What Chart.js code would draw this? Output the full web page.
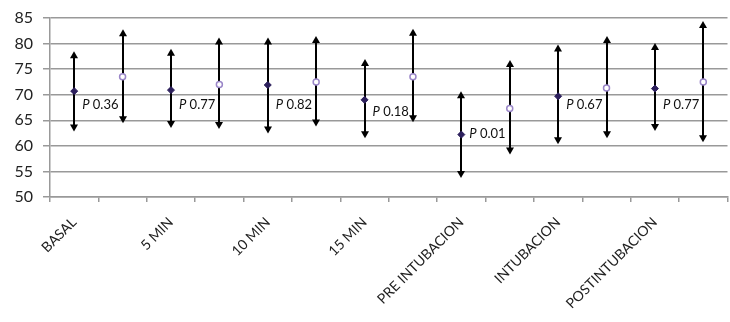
<!DOCTYPE html>
<html lang="es">
<head>
    <meta charset="UTF-8">
    <title>Frecuencia cardiaca por momento</title>
    <script src="https://cdn.jsdelivr.net/npm/chart.js"></script>
    <style>
        html, body { margin: 0; padding: 0; overflow: hidden; background: #fff; }
        #wrap { width: 733px; height: 322px; }
    </style>
</head>
<body>
    <div id="wrap"><canvas id="chart"></canvas></div>

    <script>
        // categorias (Excel solo muestra una de cada dos)
        const categories = ['BASAL', '', '5 MIN', '', '10 MIN', '', '15 MIN', '', 'PRE INTUBACION', '', 'INTUBACION', '', 'POSTINTUBACION', ''];

        // grupo 1 (rombo oscuro)
        const meanA = [70.7, 70.9, 71.9, 69.0, 62.2, 69.7, 71.2];
        const lowA  = [63.0, 63.7, 62.6, 61.7, 53.9, 60.5, 63.1];
        const highA = [78.3, 78.8, 81.0, 76.8, 70.5, 79.6, 79.9];

        // grupo 2 (circulo claro)
        const meanB = [73.5, 72.0, 72.5, 73.5, 67.3, 71.3, 72.5];
        const lowB  = [64.6, 63.5, 64.0, 64.8, 58.5, 61.7, 60.9];
        const highB = [82.6, 81.0, 81.3, 82.7, 76.6, 81.3, 84.2];

        const pValues = ['0.36', '0.77', '0.82', '0.18', '0.01', '0.67', '0.77'];
        const pLabelLevel = [68, 68, 68, 66.6, 62.3, 68, 68];

        const yTicks = [50, 55, 60, 65, 70, 75, 80, 85];

        const spread = (vals, offset) => categories.map((c, i) => (i % 2 === offset ? vals[Math.floor(i / 2)] : null));

        const errorBars = {
            id: 'errorBars',
            beforeDatasetsDraw(chart) {
                const { ctx, scales: { x, y } } = chart;
                ctx.save();
                ctx.strokeStyle = '#000';
                ctx.fillStyle = '#000';
                ctx.lineWidth = 2;
                const bar = (idx, lo, hi) => {
                    const px = Math.round(x.getPixelForValue(idx));
                    const yl = y.getPixelForValue(lo);
                    const yh = y.getPixelForValue(hi);
                    ctx.beginPath();
                    ctx.moveTo(px, yh + 4);
                    ctx.lineTo(px, yl - 4);
                    ctx.stroke();
                    ctx.beginPath();
                    ctx.moveTo(px, yh - 1);
                    ctx.lineTo(px - 4, yh + 6);
                    ctx.lineTo(px + 4, yh + 6);
                    ctx.closePath();
                    ctx.fill();
                    ctx.beginPath();
                    ctx.moveTo(px, yl + 1);
                    ctx.lineTo(px - 4, yl - 6);
                    ctx.lineTo(px + 4, yl - 6);
                    ctx.closePath();
                    ctx.fill();
                };
                meanA.forEach((m, i) => bar(i * 2, lowA[i], highA[i]));
                meanB.forEach((m, i) => bar(i * 2 + 1, lowB[i], highB[i]));
                ctx.restore();
            }
        };

        const pLabels = {
            id: 'pLabels',
            afterDatasetsDraw(chart) {
                const { ctx, scales: { x, y } } = chart;
                ctx.save();
                ctx.fillStyle = '#111';
                ctx.textBaseline = 'middle';
                ctx.textAlign = 'left';
                pValues.forEach((p, i) => {
                    let px = x.getPixelForValue(i * 2) + 8;
                    const py = y.getPixelForValue(pLabelLevel[i]);
                    ctx.font = 'italic 13px Lato';
                    ctx.fillText('P', px, py);
                    px += ctx.measureText('P').width;
                    ctx.font = '13px Lato';
                    ctx.fillText(' ' + p, px, py);
                });
                ctx.restore();
            }
        };

        new Chart(document.getElementById('chart'), {
            type: 'line',
            data: {
                labels: categories,
                datasets: [{
                    label: 'Grupo 1',
                    data: spread(meanA, 0),
                    showLine: false,
                    pointStyle: 'rectRot',
                    pointRadius: 3.5,
                    backgroundColor: '#2c1f5c',
                    borderColor: '#2c1f5c',
                    borderWidth: 1
                }, {
                    label: 'Grupo 2',
                    data: spread(meanB, 1),
                    showLine: false,
                    pointStyle: 'circle',
                    pointRadius: 3,
                    backgroundColor: '#ffffff',
                    borderColor: '#9a86c8',
                    borderWidth: 1.5
                }]
            },
            options: {
                responsive: true,
                maintainAspectRatio: false,
                animation: false,
                layout: { padding: { top: 8, left: 0, right: 0, bottom: 0 } },
                plugins: {
                    legend: { display: false },
                    tooltip: { enabled: false }
                },
                scales: {
                    x: {
                        offset: true,
                        afterFit: (scale) => { scale.height = 125; },
                        grid: {
                            offset: true,
                            drawOnChartArea: false,
                            drawTicks: true,
                            tickLength: 5,
                            color: '#999999',
                            lineWidth: 1.5
                        },
                        border: { color: '#999999', width: 1.5 },
                        ticks: {
                            autoSkip: false,
                            minRotation: 45,
                            maxRotation: 45,
                            padding: 12,
                            color: '#222',
                            font: { family: 'Lato', size: 14 }
                        }
                    },
                    y: {
                        min: 50,
                        max: 85,
                        afterFit: (scale) => { scale.width = 50; },
                        afterBuildTicks: (scale) => { scale.ticks = yTicks.map(v => ({ value: v })); },
                        grid: {
                            color: '#999999',
                            lineWidth: 1.5,
                            tickLength: 7
                        },
                        border: { color: '#999999', width: 1.5 },
                        ticks: {
                            padding: 10,
                            color: '#222',
                            font: { family: 'Lato', size: 16, lineHeight: 1 }
                        }
                    }
                }
            },
            plugins: [errorBars, pLabels]
        });
    </script>
</body>
</html>
